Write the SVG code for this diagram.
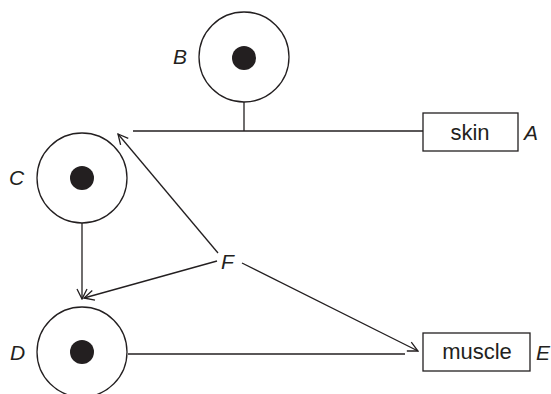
<svg xmlns="http://www.w3.org/2000/svg" width="551" height="394" viewBox="0 0 551 394">
<defs>
<marker id="arr" viewBox="0 0 12 12" refX="11" refY="6" markerWidth="12" markerHeight="12" markerUnits="userSpaceOnUse" orient="auto">
<path d="M1,1 L11,6 L1,11" fill="none" stroke="#231f20" stroke-width="1.3"/>
</marker>
<style>
.ln{stroke:#231f20;stroke-width:1.3;fill:none}
.ring{stroke:#231f20;stroke-width:1.3;fill:#fff}
.dot{fill:#231f20}
.box{stroke:#231f20;stroke-width:1.3;fill:#fff}
.lbl{font-family:"Liberation Sans",Arial,sans-serif;font-style:italic;font-size:21px;fill:#231f20}
.txt{font-family:"Liberation Sans",Arial,sans-serif;font-size:22px;fill:#231f20;text-anchor:middle}
</style>
</defs>
<rect width="551" height="394" fill="#fff"/>
<g id="connectors">
<line class="ln" x1="244" y1="102" x2="244" y2="131"/>
<line class="ln" x1="423" y1="131" x2="133" y2="131"/>
<line class="ln" x1="218" y1="253" x2="118" y2="134" marker-end="url(#arr)"/>
<line class="ln" x1="82" y1="223" x2="82" y2="299" marker-end="url(#arr)"/>
<line class="ln" x1="217" y1="261" x2="84" y2="298" marker-end="url(#arr)"/>
<line class="ln" x1="128" y1="354" x2="405" y2="354"/>
<line class="ln" x1="242" y1="263" x2="418" y2="351" marker-end="url(#arr)"/>
</g>
<g id="B">
<circle class="ring" cx="244" cy="57" r="45"/>
<circle class="dot" cx="244" cy="58" r="12"/>
<text class="lbl" x="173" y="64">B</text>
</g>
<g id="C">
<circle class="ring" cx="82" cy="178" r="45"/>
<circle class="dot" cx="82" cy="178" r="12"/>
<text class="lbl" x="9" y="185">C</text>
</g>
<g id="D">
<circle class="ring" cx="82" cy="352" r="45"/>
<circle class="dot" cx="82" cy="352" r="12"/>
<text class="lbl" x="10" y="360">D</text>
</g>
<g id="A">
<rect class="box" x="423" y="113" width="95" height="38"/>
<text class="txt" x="470" y="140">skin</text>
<text class="lbl" x="524" y="140">A</text>
</g>
<g id="E">
<rect class="box" x="423" y="333" width="107" height="38"/>
<text class="txt" x="477" y="359">muscle</text>
<text class="lbl" x="536" y="360">E</text>
</g>
<g id="F">
<text class="lbl" x="221" y="269">F</text>
</g>
</svg>
